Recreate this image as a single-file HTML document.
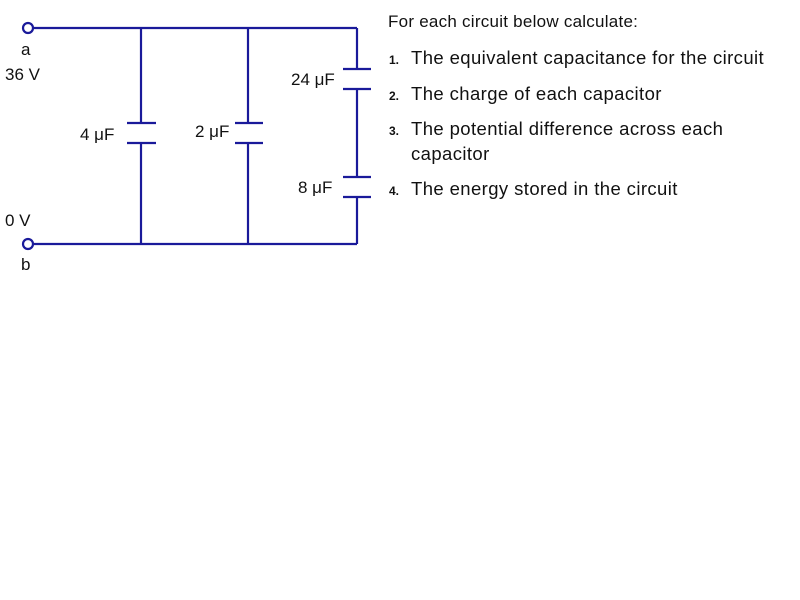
<!DOCTYPE html>
<html><head><style>
body{margin:0;width:800px;height:600px;background:#fff;overflow:hidden;position:relative;font-family:"Liberation Sans",sans-serif;color:#111}
.t{position:absolute;font-size:17px;white-space:nowrap}
.l{position:absolute;font-size:18.5px;letter-spacing:0.4px;white-space:nowrap}
.n{position:absolute;font-size:12px;font-weight:bold}
</style></head><body>
<svg width="800" height="600" style="position:absolute;left:0;top:0" stroke="#1a1a9a" stroke-width="2.2" fill="none">
<circle cx="28" cy="28" r="5" fill="#fff"/>
<circle cx="28" cy="244" r="5" fill="#fff"/>
<line x1="33" y1="28" x2="357" y2="28"/>
<line x1="33" y1="244" x2="357" y2="244"/>
<line x1="141" y1="28" x2="141" y2="123"/><line x1="141" y1="143" x2="141" y2="244"/>
<line x1="127" y1="123" x2="156" y2="123"/><line x1="127" y1="143" x2="156" y2="143"/>
<line x1="248" y1="28" x2="248" y2="123"/><line x1="248" y1="143" x2="248" y2="244"/>
<line x1="235" y1="123" x2="263" y2="123"/><line x1="235" y1="143" x2="263" y2="143"/>
<line x1="357" y1="28" x2="357" y2="69"/><line x1="357" y1="89" x2="357" y2="177"/><line x1="357" y1="197" x2="357" y2="244"/>
<line x1="343" y1="69" x2="371" y2="69"/><line x1="343" y1="89" x2="371" y2="89"/>
<line x1="343" y1="177" x2="371" y2="177"/><line x1="343" y1="197" x2="371" y2="197"/>
</svg>
<div class="t" style="left:21px;top:40px">a</div>
<div class="t" style="left:5px;top:65px">36 V</div>
<div class="t" style="left:5px;top:211px">0 V</div>
<div class="t" style="left:21px;top:255px">b</div>
<div class="t" style="left:80px;top:125px">4 μF</div>
<div class="t" style="left:195px;top:122px">2 μF</div>
<div class="t" style="left:291px;top:70px">24 μF</div>
<div class="t" style="left:298px;top:178px">8 μF</div>
<div class="t" style="left:388px;top:12px;letter-spacing:0.25px">For each circuit below calculate:</div>
<div class="n" style="left:389px;top:53px">1.</div><div class="l" style="left:411px;top:47px">The equivalent capacitance for the circuit</div>
<div class="n" style="left:389px;top:89px">2.</div><div class="l" style="left:411px;top:83px">The charge of each capacitor</div>
<div class="n" style="left:389px;top:124px">3.</div><div class="l" style="left:411px;top:118px">The potential difference across each</div>
<div class="l" style="left:411px;top:143px">capacitor</div>
<div class="n" style="left:389px;top:184px">4.</div><div class="l" style="left:411px;top:178px">The energy stored in the circuit</div>
</body></html>
